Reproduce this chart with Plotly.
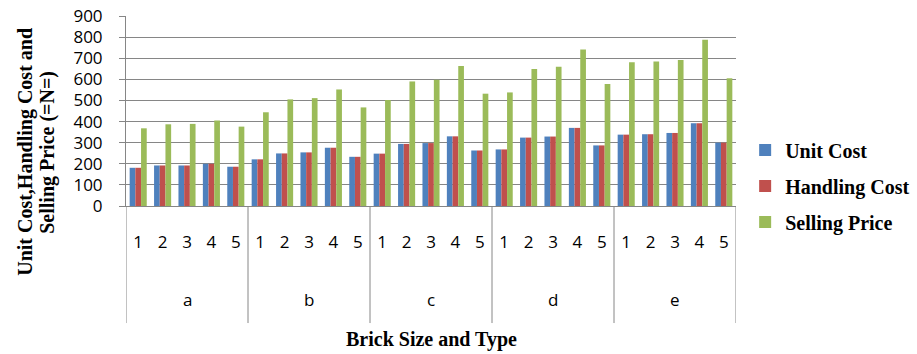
import plotly.graph_objects as go

# Brick groups and the five types within each group
groups = ["a", "b", "c", "d", "e"]
types = ["1", "2", "3", "4", "5"]

# Costs and prices in Naira (=N=), one value per brick size/type
unit_cost = [181, 192, 192, 200, 186,
             221, 249, 254, 276, 233,
             248, 294, 298, 330, 263,
             268, 324, 329, 370, 287,
             338, 340, 346, 392, 300]
handling_cost = [181, 192, 192, 200, 186,
                 221, 249, 254, 276, 233,
                 248, 294, 298, 330, 263,
                 268, 324, 329, 370, 287,
                 338, 340, 346, 392, 300]
selling_price = [368, 387, 389, 405, 376,
                 444, 505, 511, 552, 467,
                 502, 590, 598, 663, 532,
                 538, 649, 660, 741, 578,
                 681, 684, 692, 787, 605]

series = [
    ("Unit Cost", unit_cost, "#4F81BD"),
    ("Handling Cost", handling_cost, "#C0504D"),
    ("Selling Price", selling_price, "#9BBB59"),
]

n_types = len(types)
positions = list(range(len(groups) * n_types))
type_labels = [t for _ in groups for t in types]

fig = go.Figure()
for name, values, color in series:
    fig.add_trace(go.Bar(
        x=positions, y=values, name=name,
        marker=dict(color=color, line=dict(width=0)),
        legendgroup=name,
    ))

serif = "Liberation Serif"
sans = "Open Sans"
grid = "#868686"

# Group labels under the type labels
for i, g in enumerate(groups):
    fig.add_annotation(x=i * n_types + (n_types - 1) / 2, y=-0.49,
                       xref="x", yref="paper", text=g, showarrow=False,
                       font=dict(family=sans, size=17, color="black"),
                       xanchor="center", yanchor="middle")

# Vertical dividers between the groups on the category axis
for k in range(len(groups) + 1):
    xb = k * n_types - 0.5
    fig.add_shape(type="line", xref="x", yref="paper",
                  x0=xb, x1=xb, y0=0, y1=-0.616,
                  line=dict(color=grid, width=1))

# Axis titles
fig.add_annotation(x=0.5, y=-0.70, xref="paper", yref="paper",
                   text="<b>Brick Size and Type</b>", showarrow=False,
                   font=dict(family=serif, size=20, color="black"),
                   xanchor="center", yanchor="middle")
fig.add_annotation(x=-0.164, y=0.285, xref="paper", yref="paper",
                   text="<b>Unit Cost,Handling Cost and</b>", showarrow=False,
                   textangle=-90,
                   font=dict(family=serif, size=20, color="black"),
                   xanchor="center", yanchor="middle")
fig.add_annotation(x=-0.128, y=0.285, xref="paper", yref="paper",
                   text="<b>Selling Price (=N=)</b>", showarrow=False,
                   textangle=-90,
                   font=dict(family=serif, size=20, color="black"),
                   xanchor="center", yanchor="middle")

fig.update_layout(
    width=917, height=354,
    margin=dict(l=126, r=181, t=16, b=148, autoexpand=False),
    plot_bgcolor="white", paper_bgcolor="white",
    barmode="group", bargap=0.3, bargroupgap=0.0,
    font=dict(family=sans, color="black"),
    legend=dict(x=1.015, y=0.105, xanchor="left", yanchor="middle",
                traceorder="grouped", tracegroupgap=7,
                font=dict(family=serif, size=20, color="black", weight="bold"),
                bgcolor="rgba(0,0,0,0)"),
    showlegend=True,
)

fig.update_xaxes(
    range=[-0.5, len(positions) - 0.5],
    tickmode="array", tickvals=positions, ticktext=type_labels,
    ticks="", showgrid=False, zeroline=False,
    showline=True, linecolor=grid, linewidth=1,
    tickfont=dict(family=sans, size=17, color="black"),
    ticklabelstandoff=21,
)
fig.update_yaxes(
    range=[0, 900], dtick=100, tick0=0,
    showgrid=True, gridcolor=grid, gridwidth=1,
    zeroline=False, showline=True, linecolor=grid, linewidth=1,
    ticks="outside", ticklen=6, tickcolor=grid,
    tickfont=dict(family=sans, size=17, color="black"),
    ticklabelstandoff=13,
)

fig.write_html("out.html")
